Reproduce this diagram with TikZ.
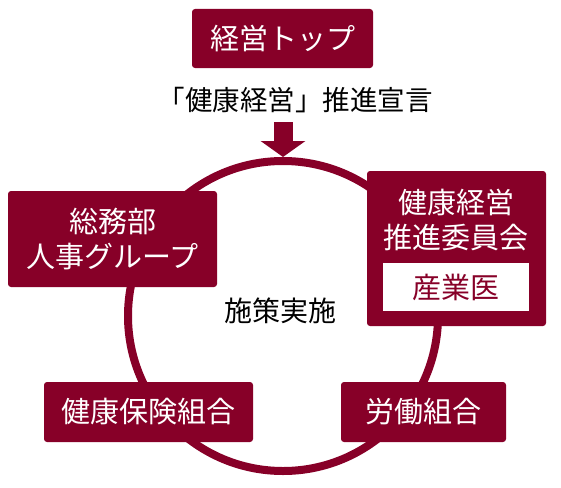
\documentclass[tikz,border=0pt]{standalone}
\usepackage{fontspec}
\setmainfont{Noto Sans CJK JP}
\usetikzlibrary{arrows.meta,positioning}
\definecolor{wine}{RGB}{135,0,40}

\begin{document}
\begin{tikzpicture}[x=1pt, y=-1pt, line width=0.6pt,
  redbox/.style={fill=wine, rounded corners=3pt, text=white, inner sep=0pt,
    align=center, font=\fontsize{29}{35}\selectfont},
  plaintext/.style={text=black, inner sep=0pt, font=\fontsize{27.5}{30}\selectfont}]
\useasboundingbox (0,0) rectangle (561,487);
% ring behind the boxes
\node[circle, draw=wine, line width=8pt, minimum size=310pt, inner sep=0pt] (ring) at (283,316) {};
\node[redbox, minimum width=181pt, minimum height=59pt] (top) at (282.5,38.5) {経営トップ};
\node[plaintext] (decl) at (295,100) {「健康経営」推進宣言};
\coordinate (arrowstart) at (283,122);
\draw[wine, line width=19pt, -{Triangle[width=44pt,length=16pt]}] (arrowstart) -- (ring.north);
\node[plaintext, font=\fontsize{28}{30}\selectfont] (measures) at (280,311) {施策実施};
\node[redbox, minimum width=209pt, minimum height=96pt] (general) at (112.5,239) {総務部\\人事グループ};
\node[redbox, minimum width=179pt, minimum height=155pt] (committee) at (456.5,248.5) {};
\node[text=white, align=center, inner sep=0pt, font=\fontsize{29}{35}\selectfont] (committeename) at (456,219.5) {健康経営\\推進委員会};
\node[fill=white, text=wine, inner sep=0pt, minimum width=146pt, minimum height=48pt, font=\fontsize{29}{35}\selectfont] (doctor) at (456,287) {産業医};
\node[redbox, minimum width=209pt, minimum height=60pt] (insurance) at (148.5,412) {健康保険組合};
\node[redbox, minimum width=165pt, minimum height=60pt] (union) at (423.5,412) {労働組合};
\end{tikzpicture}
\end{document}
